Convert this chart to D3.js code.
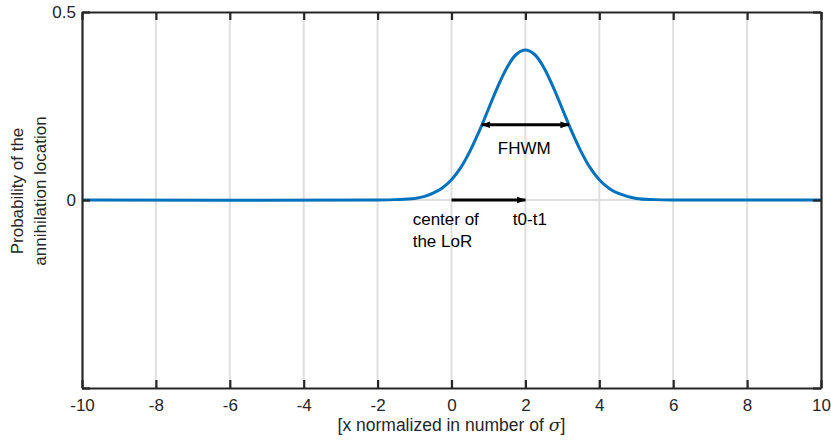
<!DOCTYPE html>
<html>
<head>
<meta charset="utf-8">
<script src="https://cdn.jsdelivr.net/npm/d3@7"></script>
<style>
  body { margin: 0; background: #fff; }
  svg { font-family: "Liberation Sans", Arial, sans-serif; }
</style>
</head>
<body>
<div id="chart"></div>
<script>
// curve (gaussian bump around x = 2)
const xVals = [-10, -2, -1.5, -1, -0.75, -0.5, -0.25, 0, 0.25, 0.5, 0.75, 1, 1.25, 1.5, 1.75, 2,
               2.25, 2.5, 2.75, 3, 3.25, 3.5, 3.75, 4, 4.25, 4.5, 5, 5.5, 6, 10];
const yVals = [0, 0, 0.001, 0.004, 0.009, 0.018, 0.032, 0.054, 0.086, 0.130, 0.183, 0.242, 0.301, 0.352, 0.387, 0.399,
               0.387, 0.352, 0.301, 0.242, 0.183, 0.130, 0.086, 0.054, 0.032, 0.018, 0.004, 0.001, 0, 0];

const xTicks = [-10, -8, -6, -4, -2, 0, 2, 4, 6, 8, 10];
const yTicks = [-0.5, 0, 0.5];
const yTickLabels = ["", "0", "0.5"];

// annotations
const fwhmFrom = 0.82, fwhmTo = 3.18, fwhmY = 0.2;
const lorFrom = 0, lorTo = 2;

const width = 831, height = 440;
const margin = {top: 12, right: 10, bottom: 52, left: 82};

let svg = d3.select("#chart")
    .append("svg")
        .attr("width", width)
        .attr("height", height);

let xScale = d3.scaleLinear()
    .domain([-10, 10])
    .range([margin.left, width - margin.right]);

let yScale = d3.scaleLinear()
    .domain([-0.5, 0.5])
    .range([height - margin.bottom, margin.top]);

let axisColor = "#262626";
let gridColor = "#dfdfdf";

svg.append("defs").append("marker")
    .attr("id", "head")
    .attr("viewBox", "0 0 10 10")
    .attr("refX", 9).attr("refY", 5)
    .attr("markerWidth", 3.2).attr("markerHeight", 3.2)
    .attr("markerUnits", "strokeWidth")
    .attr("orient", "auto-start-reverse")
    .append("path")
        .attr("d", "M0,1.5 L10,5 L0,8.5 Z")
        .attr("fill", "#000");

// grid
svg.append("g")
    .selectAll("line")
    .data(xTicks.slice(1, -1))
    .enter()
    .append("line")
        .attr("x1", d => xScale(d)).attr("x2", d => xScale(d))
        .attr("y1", yScale(0.5)).attr("y2", yScale(-0.5))
        .attr("stroke", gridColor)
        .attr("stroke-width", 2);

svg.append("line")
    .attr("x1", xScale(-10)).attr("x2", xScale(10))
    .attr("y1", yScale(0)).attr("y2", yScale(0))
    .attr("stroke", gridColor)
    .attr("stroke-width", 2);

// curve
let pts = xVals.map((x, i) => [x, yVals[i]]);
let line = d3.line()
    .x(d => xScale(d[0]))
    .y(d => yScale(d[1]))
    .curve(d3.curveCatmullRom);

svg.append("path")
    .datum(pts)
    .attr("d", line)
    .attr("fill", "none")
    .attr("stroke", "#0072BD")
    .attr("stroke-width", 3);

// axes (ticks inward, box on)
let bottomAxis = svg.append("g")
    .attr("transform", `translate(0, ${yScale(-0.5)})`)
    .call(d3.axisBottom(xScale).tickValues(xTicks).tickSizeInner(-8).tickSizeOuter(0).tickPadding(11)
        .tickFormat(d => String(d)));
let topAxis = svg.append("g")
    .attr("transform", `translate(0, ${yScale(0.5)})`)
    .call(d3.axisTop(xScale).tickValues(xTicks).tickSizeInner(-8).tickSizeOuter(0).tickFormat(""));
let leftAxis = svg.append("g")
    .attr("transform", `translate(${xScale(-10)}, 0)`)
    .call(d3.axisLeft(yScale).tickValues(yTicks).tickSizeInner(-8).tickSizeOuter(0).tickPadding(6)
        .tickFormat((d, i) => yTickLabels[i]));
let rightAxis = svg.append("g")
    .attr("transform", `translate(${xScale(10)}, 0)`)
    .call(d3.axisRight(yScale).tickValues(yTicks).tickSizeInner(-8).tickSizeOuter(0).tickFormat(""));

[bottomAxis, topAxis, leftAxis, rightAxis].forEach(g => {
    g.select(".domain").attr("stroke", axisColor).attr("stroke-width", 2.2);
    g.selectAll(".tick line").attr("stroke", axisColor).attr("stroke-width", 2.2);
    g.selectAll(".tick text").attr("fill", axisColor).attr("font-size", "17px")
        .attr("font-family", "'Liberation Sans', Arial, sans-serif");
});

// annotations
svg.append("line")
    .attr("x1", xScale(fwhmFrom)).attr("x2", xScale(fwhmTo))
    .attr("y1", yScale(fwhmY)).attr("y2", yScale(fwhmY))
    .attr("stroke", "#000").attr("stroke-width", 3)
    .attr("marker-start", "url(#head)")
    .attr("marker-end", "url(#head)");

svg.append("line")
    .attr("x1", xScale(lorFrom)).attr("x2", xScale(lorTo))
    .attr("y1", yScale(0)).attr("y2", yScale(0))
    .attr("stroke", "#000").attr("stroke-width", 3)
    .attr("marker-end", "url(#head)");

let ann = svg.append("g").attr("font-size", "17px").attr("fill", "#000");
ann.append("text").attr("x", xScale(1.97)).attr("y", 154).attr("text-anchor", "middle").text("FHWM");
ann.append("text").attr("x", xScale(-1.05)).attr("y", 225).text("center of");
ann.append("text").attr("x", xScale(-1.05)).attr("y", 246.5).text("the LoR");
ann.append("text").attr("x", xScale(1.66)).attr("y", 225).text("t0-t1");

// axis titles
svg.append("text")
    .attr("x", xScale(0))
    .attr("y", 431)
    .attr("text-anchor", "middle")
    .attr("font-size", "17.5px")
    .attr("fill", axisColor)
    .html("[x normalized in number of <tspan font-style='italic' font-family='DejaVu Serif'>σ</tspan>]");

let yTitle = svg.append("text")
    .attr("transform", `translate(0, 191) rotate(-90)`)
    .attr("text-anchor", "middle")
    .attr("font-size", "17px")
    .attr("fill", axisColor);
yTitle.append("tspan").attr("x", 0).attr("y", 22.5).text("Probability of the");
yTitle.append("tspan").attr("x", 0).attr("y", 45.5).text("annihilation location");
</script>
</body>
</html>
